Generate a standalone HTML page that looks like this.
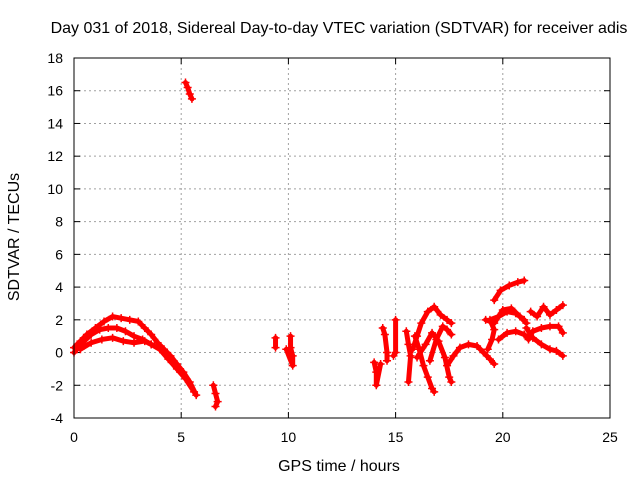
<!DOCTYPE html>
<html><head><meta charset="utf-8"><style>
body{margin:0;background:#fff}
text{font-family:"Liberation Sans",sans-serif;font-size:14px;fill:#000}
.big{font-size:16px}
</style></head><body>
<svg id="c" width="640" height="480">
<text class="big" x="339" y="33" text-anchor="middle">Day 031 of 2018, Sidereal Day-to-day VTEC variation (SDTVAR) for receiver adis</text>
<text class="big" x="339" y="471" text-anchor="middle">GPS time / hours</text>
<text class="big" transform="translate(19,237) rotate(-90)" text-anchor="middle">SDTVAR / TECUs</text>
<g id="grid"></g><g id="ticks"></g><g id="marks"></g>
<rect x="74" y="58" width="536" height="360" fill="none" stroke="#000"/>
</svg>
<script>
const xTicks=[0,5,10,15,20,25];
const yTicks=[-4,-2,0,2,4,6,8,10,12,14,16,18];
const trackA=[[0,0.3],[0.3,0.7],[0.6,1.1],[1,1.5],[1.4,1.9],[1.8,2.2],[2.2,2.1],[2.6,2.0],[3,1.9],[3.3,1.5],[3.6,1.1],[3.9,0.6],[4.2,0.2],[4.5,-0.2],[4.8,-0.7],[5.1,-1.2],[5.4,-1.8],[5.7,-2.6]];
const trackB=[[0,0],[0.4,0.6],[0.8,1.1],[1.2,1.4],[1.6,1.5],[2,1.5],[2.4,1.3],[2.8,1.0],[3.2,0.8],[3.6,0.5],[4,0.2],[4.4,-0.4],[4.8,-1],[5.2,-1.6],[5.6,-2.4]];
const trackC=[[0.3,0.2],[0.8,0.6],[1.3,0.8],[1.8,0.9],[2.3,0.7],[2.8,0.6],[3.3,0.7],[3.6,0.5]];
const trackD=[[5.2,16.5],[5.3,16.2],[5.4,15.8],[5.5,15.5]];
const trackE=[[6.5,-2],[6.6,-2.5],[6.7,-3],[6.6,-3.3]];
const trackF=[[9.4,0.9],[9.4,0.3]];
const trackG=[[10.1,1],[10.1,0.3],[10.2,-0.2],[10.2,-0.8],[9.9,0.2]];
const trackH=[[14,-0.6],[14.1,-1.2],[14.1,-2],[14.3,-0.7]];
const trackI=[[14.4,1.5],[14.5,1.1],[14.6,0],[14.6,-0.5]];
const trackJ=[[15,2],[15,0],[14.9,-0.2]];
const trackK=[[15.5,1.3],[15.6,0.5],[15.7,-0.2],[15.6,-1.8]];
const trackL=[[15.8,0.2],[16,1],[16.2,1.8],[16.5,2.5],[16.8,2.8],[17.1,2.3],[17.4,2],[17.6,1.8]];
const trackM=[[15.9,1],[16.1,0.2],[16.3,-0.8],[16.5,-1.5],[16.7,-2.2],[16.8,-2.4]];
const trackN=[[16,-0.3],[16.4,0.5],[16.7,1.2],[17,0.7],[17.3,-0.3],[17.5,-1.5],[17.6,-1.8]];
const trackO=[[16.6,-0.5],[16.9,0.8],[17.2,1.6],[17.4,1.4],[17.6,1.1]];
const trackP=[[17.4,-0.8],[17.7,-0.2],[18,0.3],[18.4,0.5],[18.8,0.4],[19.1,0],[19.4,-0.4],[19.6,-0.7]];
const trackQ=[[19.3,0.2],[19.5,0.8],[19.6,1.4],[19.4,2],[19.8,2.2],[20.2,2.5],[20.6,2.4],[21,2]];
const trackR=[[19.6,3.2],[19.9,3.8],[20.3,4.1],[20.7,4.3],[21,4.4]];
const trackS=[[19.2,2],[19.6,1.8],[20,2.6],[20.4,2.7],[20.8,2.2],[21.1,1.8]];
const trackT=[[19.8,0.8],[20.2,1.2],[20.6,1.3],[21,1.1],[21.2,0.8],[21.4,1.3],[21.8,1.5],[22.2,1.6],[22.6,1.6],[22.8,1.2]];
const trackU=[[21.1,1.5],[21.4,0.9],[21.8,0.5],[22.2,0.2],[22.5,0.1],[22.8,-0.2]];
const trackV=[[21.3,2.5],[21.6,2.2],[21.9,2.8],[22.2,2.3],[22.5,2.6],[22.8,2.9]];
const tracks=[trackA,trackB,trackC,trackD,trackE,trackF,trackG,trackH,trackI,trackJ,trackK,trackL,trackM,trackN,trackO,trackP,trackQ,trackR,trackS,trackT,trackU,trackV];
const NS='http://www.w3.org/2000/svg';
const X=v=>74+v*536/25, Y=v=>418-(v+4)*360/22;
function mk(t,a,p){const e=document.createElementNS(NS,t);for(const k in a)e.setAttribute(k,a[k]);p.appendChild(e);return e;}
const grid=document.getElementById('grid'),ticks=document.getElementById('ticks'),marks=document.getElementById('marks');
xTicks.forEach(v=>{const x=X(v);
 if(v>0&&v<25){const g=mk('line',{x1:x,x2:x,y1:58,y2:418,stroke:'#a0a0a0','stroke-dasharray':'2,3'},grid);}
 mk('line',{x1:x,x2:x,y1:418,y2:412,stroke:'#000'},ticks);mk('line',{x1:x,x2:x,y1:58,y2:64,stroke:'#000'},ticks);
 const t=mk('text',{x:x,y:442,'text-anchor':'middle'},ticks);t.textContent=v;
 });
yTicks.forEach(v=>{const y=Y(v);
 if(v>-4&&v<18){const g=mk('line',{x1:74,x2:610,y1:y,y2:y,stroke:'#a0a0a0','stroke-dasharray':'2,3'},grid);}
 mk('line',{x1:74,x2:80,y1:y,y2:y,stroke:'#000'},ticks);mk('line',{x1:610,x2:604,y1:y,y2:y,stroke:'#000'},ticks);
 const t=mk('text',{x:63,y:y+5,'text-anchor':'end'},ticks);t.textContent=v;
 });
tracks.forEach(tr=>{
 const p=mk('polyline',{points:tr.map(d=>X(d[0])+','+Y(d[1])).join(' '),fill:'none',stroke:'#f00','stroke-width':5,'stroke-linejoin':'round','stroke-linecap':'round'},marks);
 
 
 tr.forEach(d=>{const x=X(d[0]),y=Y(d[1]);
  const m=mk('path',{d:`M${x-4},${y}H${x+4}M${x},${y-4}V${y+4}`,stroke:'#f00','stroke-width':1.5},marks);
  
  });
});
</script>
</body></html>
